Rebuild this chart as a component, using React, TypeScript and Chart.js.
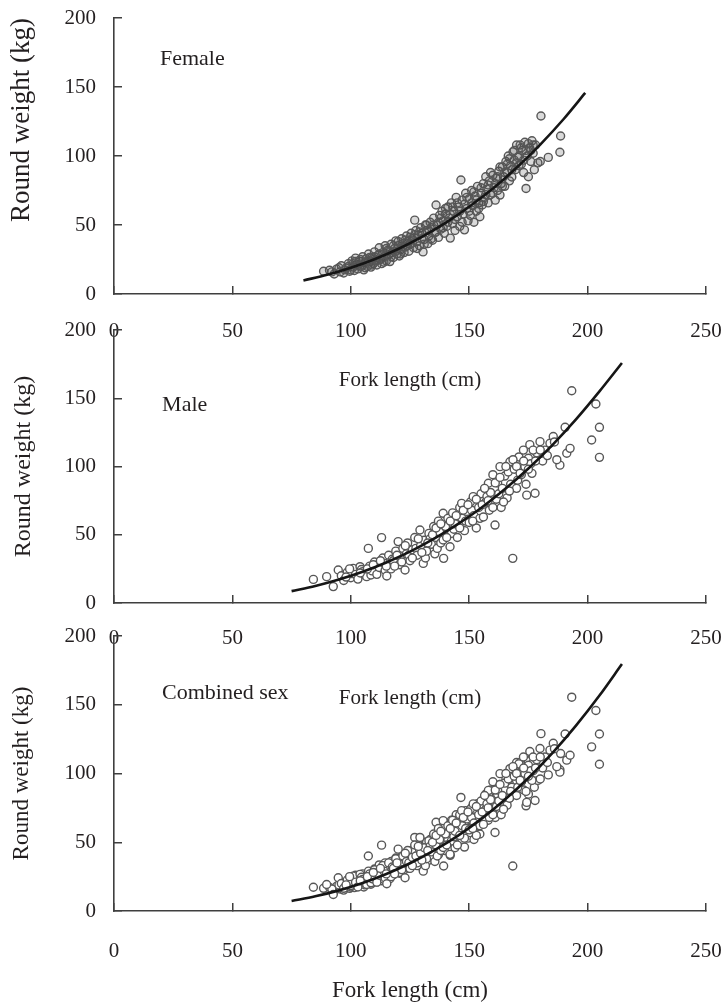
import React, { useEffect, useRef } from 'react';
import { Chart, registerables } from 'chart.js';

Chart.register(...registerables);

// ---------- data ----------
const xTitle = 'Fork length (cm)';
const yTitle = 'Round weight (kg)';
const panelNames = ['Female', 'Male', 'Combined sex'];
const xMin = 0, xMax = 250, xStep = 50;
const yMin = 0, yMax = 200, yStep = 50;

const femalePoints: [number, number][] = [
  [88.5, 16.5], [91, 17.2], [93, 14.5], [94, 18], [95.5, 16], [96, 20.5], [97, 15.2], [98, 18.8], [99, 22], [99.5, 16.5],
  [100.5, 24], [101, 19.5], [101.5, 17], [102, 26], [102.5, 21.5], [103, 18.2], [104, 23.5], [104.5, 20], [105, 27], [105.5, 17.5],
  [106, 22.8], [106.5, 25.5], [107, 20], [107.5, 29], [108, 23.5], [108.5, 19.5], [109, 26.5], [109.5, 22], [110, 30.5], [110.5, 24.5],
  [111, 21], [111.5, 28], [112, 33.5], [112.5, 25], [113, 22], [113.5, 30], [114, 27], [114.5, 35], [115, 24], [115.5, 31.5],
  [116, 28.5], [116.5, 23.5], [117, 36], [117.5, 30], [118, 26.5], [118.5, 33], [119, 38.5], [119.5, 29], [120, 35], [120.5, 27.5],
  [121, 32], [121.5, 40], [122, 36.5], [122.5, 30], [123, 34], [123.5, 42], [124, 38], [124.5, 31], [125, 36], [125.5, 44],
  [126, 40], [126.5, 33.5], [127, 53.5], [127.5, 46], [128, 38], [128.5, 42.5], [129, 35], [129.5, 48], [130, 44], [130.5, 30.5],
  [131, 39.5], [131.5, 50], [132, 46], [132.5, 36.5], [133, 42], [133.5, 52], [134, 48], [134.5, 39], [135, 55], [135.5, 44.5],
  [136, 64.5], [136.5, 50], [137, 41], [137.5, 57], [138, 47], [138.5, 60], [139, 53], [139.5, 44], [140, 58], [140.5, 49],
  [141, 63], [141.5, 55], [142, 40.5], [142.5, 66], [143, 51], [143.5, 60], [144, 46], [144.5, 70], [145, 56], [145.5, 63],
  [146, 49], [146.5, 82.6], [147, 68], [147.5, 58], [148, 46.5], [148.5, 73], [149, 62], [149.5, 53], [150, 69], [150.5, 57],
  [151, 75], [151.5, 64], [152, 52], [152.5, 71], [153, 60], [153.5, 78], [154, 66], [154.5, 56], [155, 73], [155.5, 64.5],
  [156, 80], [156.5, 70], [157, 85], [157.5, 76], [158, 66], [158.5, 82], [159, 72], [160, 86], [160.5, 77], [161, 68],
  [161.5, 84], [162, 75], [162.5, 89], [163, 71.7], [163.5, 80], [164, 92], [164.5, 85], [165, 78], [165.5, 96], [166, 88],
  [166.5, 100], [167, 82], [167.5, 93], [168, 84.8], [168.5, 103], [169, 97], [169.5, 90], [170, 108], [170.5, 99], [171, 93],
  [171.5, 108], [172, 94], [172.5, 104], [173, 88], [173.5, 110], [174, 76.5], [174.5, 100], [175, 85], [175.5, 106], [176, 96],
  [176.5, 111], [177, 102], [177.5, 90], [178, 108], [179, 95], [180, 96], [180.3, 129], [183.4, 99], [188.3, 102.7], [188.6, 114.5],
  [92, 16], [95, 19], [97.5, 17.5], [99, 20], [100, 17.5], [101, 22], [102, 23.5], [103, 20.5], [104, 25], [105, 21],
  [106, 19], [107, 24], [108, 26.5], [109, 21], [110, 27], [111, 24], [112, 29], [113, 26], [114, 23], [115, 33],
  [116, 31], [117, 27], [118, 35], [119, 31], [120, 38], [121, 29], [122, 34], [123, 39], [124, 35], [125, 41],
  [126, 37], [127, 43], [128, 33], [129, 45], [130, 40], [131, 36], [132, 50], [133, 46], [134, 40], [135, 50],
  [136, 45], [137, 52], [138, 55], [139, 48], [140, 62], [141, 52], [142, 58], [143, 63], [144, 54], [145, 66],
  [146, 60], [147, 52], [148, 65], [149, 70], [150, 60], [151, 66], [152, 74], [153, 68], [154, 62], [155, 77],
  [156, 67], [157, 72], [158, 79], [159, 88], [160, 73], [161, 80], [162, 85], [163, 92], [164, 78], [165, 88],
  [166, 94], [167, 98], [168, 90], [169, 104], [170, 95], [171, 100], [172, 106], [173, 97], [174, 104], [175, 109],
  [176, 104], [177, 108],
];

const malePoints: [number, number][] = [
  [84.2, 17.3], [89.8, 19.3], [92.6, 12], [94.7, 24.2], [96, 20], [97, 16.5], [98.5, 22.5], [100, 18.5], [100.5, 21.5], [101, 25.4],
  [102, 21], [103, 17.5], [103.9, 26.6], [104.5, 24.5], [105, 23], [106, 20.5], [106.7, 19.3], [107.4, 40], [108, 27], [108.5, 20.5],
  [109, 23.5], [110, 30], [111, 21], [111.5, 28], [112, 26], [113, 47.9], [113.5, 33], [114, 29], [114.5, 24], [115.2, 19.8],
  [116, 35], [117, 25], [117.5, 32], [118, 31], [119, 38], [120, 45], [120.5, 28], [121, 34], [121.5, 30], [122, 40],
  [122.9, 24.2], [123.5, 36], [124, 44], [124.5, 35], [125, 31], [126, 39], [127, 48], [127.5, 40], [128, 35], [129.2, 53.5],
  [129.5, 42], [130.6, 29], [131, 46], [131.5, 33], [132, 38], [133, 51], [133.5, 47], [134, 43], [135, 56], [135.5, 36],
  [136, 48], [136.5, 40], [137, 60], [137.5, 52], [138, 44], [139, 65.7], [139.2, 32.7], [139, 46.2], [140, 56], [141, 62],
  [141.9, 41.2], [142.5, 51], [143, 66], [143.5, 54], [144, 58], [145, 48], [146, 70], [146.8, 73], [147, 62], [148, 53],
  [148.5, 60], [149, 67], [150, 59], [150.5, 74], [151, 68], [151.7, 77.9], [152, 64], [153, 55], [154, 70], [154.5, 62],
  [155, 80], [156, 63], [157, 74], [157.5, 78], [158.1, 87.7], [158.5, 68], [159, 81], [160, 94], [160.9, 57.1], [161.5, 76],
  [162, 88], [162.5, 80], [163, 99.9], [163.5, 70], [164, 84], [165, 93], [166, 77], [166.5, 96], [167.2, 103.5], [167.5, 87],
  [168.4, 32.7], [169, 98], [170, 84], [170.5, 90], [171, 107], [172, 94], [172.9, 112], [173.5, 100], [174, 87], [174.3, 79],
  [175, 106], [175.6, 116], [176, 102], [176.5, 95], [177.8, 80.4], [178.5, 110], [179.9, 118.2], [181, 104], [182, 112], [183, 108],
  [184.1, 117], [185.5, 122], [188.3, 101], [190.5, 128.7], [191.2, 109.7], [192.6, 113.3], [193.3, 155.5], [201.7, 119.4], [203.5, 145.8], [205, 128.7],
  [205, 106.7],
  [98, 19], [99.5, 25], [104, 22], [107, 25], [109.5, 28], [112.5, 31], [115, 27], [118.5, 27], [119.5, 35], [123, 42],
  [126, 33], [128.5, 47], [130, 37], [132.5, 44], [134.5, 50], [136, 55], [138, 58], [140.5, 48], [142, 60], [144.5, 64],
  [146, 55], [147.5, 68], [149.5, 72], [151.5, 60], [153, 76], [155.5, 72], [156.5, 84], [158, 75], [160, 70], [161, 88],
  [163, 92], [164.5, 74], [165.5, 100], [167, 82], [168.5, 105], [170, 100], [171.5, 95], [173, 104], [175, 98], [177, 112],
  [178, 104], [180, 112], [186, 118], [187, 105],
];

// combined sexes = both samples together
const combinedPoints: [number, number][] = [...femalePoints, ...malePoints];

// fitted length-weight curves
const femaleCurveL = [80, 90, 100, 110, 120, 130, 140, 150, 160, 170, 180, 190, 199];
const femaleCurveW = [9.8, 13.9, 19.0, 25.2, 32.6, 41.4, 51.5, 63.2, 76.4, 91.5, 108.3, 127, 145.7];
const maleCurveL = [75, 85, 95, 105, 115, 125, 135, 145, 155, 165, 175, 185, 195, 205, 214.5];
const maleCurveW = [8.7, 12.5, 17.2, 22.9, 29.7, 37.6, 46.9, 57.6, 69.6, 83.3, 98.5, 115.5, 134.3, 155, 175.8];
const combinedCurveL = [75, 85, 95, 105, 115, 125, 135, 145, 155, 165, 175, 185, 195, 205, 214.5];
const combinedCurveW = [7.3, 10.7, 15.0, 20.4, 26.9, 34.7, 43.9, 54.5, 66.8, 80.9, 96.7, 114.6, 134.6, 156.7, 179.6];

// ---------- styling / layout ----------
const FONT = "'Liberation Serif', 'Times New Roman', serif";
const TEXT = '#231f20';
const AXIS = '#3f3f3f';

const panels = [
  {
    name: panelNames[0], points: femalePoints, curveL: femaleCurveL, curveW: femaleCurveW,
    top: 0, height: 400, xBox: 106, tickPad: 33, xTitleSize: 21, xTitlePadB: 7,
    yTitleSize: 27, yTitlePadT: 6, yTitleAlign: 'end', radius: 4,
    fill: 'rgba(70,70,70,0.2)', labelAt: [19.4, 170],
  },
  {
    name: panelNames[1], points: malePoints, curveL: maleCurveL, curveW: maleCurveW,
    top: 312, height: 410, xBox: 119, tickPad: 31, xTitleSize: 21, xTitlePadB: 11,
    yTitleSize: 24, yTitlePadT: 9, yTitleAlign: 'center', radius: 4,
    fill: '#ffffff', labelAt: [20.3, 145],
  },
  {
    name: panelNames[2], points: combinedPoints, curveL: combinedCurveL, curveW: combinedCurveW,
    top: 618, height: 387, xBox: 94, tickPad: 36, xTitleSize: 23, xTitlePadB: 0,
    yTitleSize: 23, yTitlePadT: 8, yTitleAlign: 'center', radius: 4,
    fill: '#ffffff', labelAt: [20.3, 158.5],
  },
];

const panelLabelPlugin = {
  id: 'panelLabel',
  afterDatasetsDraw(chart: any, _args: any, opts: any) {
    const { ctx, scales } = chart;
    const px = scales.x.getPixelForValue(opts.at[0]);
    const py = scales.y.getPixelForValue(opts.at[1]);
    ctx.save();
    ctx.font = `22px ${FONT}`;
    ctx.fillStyle = TEXT;
    ctx.textAlign = 'left';
    ctx.textBaseline = 'middle';
    ctx.fillText(opts.text, px, py);
    ctx.restore();
  },
};

function Panel({ p }: { p: any }) {
  const ref = useRef<HTMLCanvasElement | null>(null);
  useEffect(() => {
    if (!ref.current) return;
    const chart = new Chart(ref.current, {
      type: 'scatter',
      data: {
        datasets: [
          {
            data: p.curveL.map((l: number, i: number) => ({ x: l, y: p.curveW[i] })),
            showLine: true,
            borderColor: '#161616',
            borderWidth: 2.6,
            pointRadius: 0,
            cubicInterpolationMode: 'monotone',
            order: 0,
          } as any,
          {
            data: p.points.map((d: [number, number]) => ({ x: d[0], y: d[1] })),
            pointRadius: p.radius,
            pointStyle: 'circle',
            borderColor: '#575757',
            borderWidth: 1.4,
            backgroundColor: p.fill,
            order: 1,
          },
        ],
      },
      options: {
        animation: false,
        responsive: false,
        devicePixelRatio: 1,
        events: [],
        layout: { padding: { left: 0, right: 18, top: 18, bottom: 0 } },
        plugins: {
          legend: { display: false },
          tooltip: { enabled: false },
          panelLabel: { text: p.name, at: p.labelAt },
        } as any,
        scales: {
          x: {
            type: 'linear',
            min: xMin,
            max: xMax,
            ticks: { stepSize: xStep, padding: p.tickPad, color: TEXT, font: { family: FONT, size: 21 } },
            grid: { drawOnChartArea: false, drawTicks: true, tickLength: -8, color: AXIS, lineWidth: 1.5 },
            border: { display: true, color: AXIS, width: 1.6 },
            title: {
              display: true, text: xTitle, color: TEXT,
              font: { family: FONT, size: p.xTitleSize },
              padding: { top: 0, bottom: p.xTitlePadB },
            },
            afterFit: (s: any) => { s.height = p.xBox; s.paddingLeft = 0; s.paddingRight = 0; },
          },
          y: {
            type: 'linear',
            min: yMin,
            max: yMax,
            ticks: { stepSize: yStep, padding: 26, color: TEXT, font: { family: FONT, size: 21 } },
            grid: { drawOnChartArea: false, drawTicks: true, tickLength: -8, color: AXIS, lineWidth: 1.5 },
            border: { display: true, color: AXIS, width: 1.6 },
            title: {
              display: true, text: yTitle, color: TEXT, align: p.yTitleAlign,
              font: { family: FONT, size: p.yTitleSize },
              padding: { top: p.yTitlePadT, bottom: 0 },
            },
            afterFit: (s: any) => { s.width = 114; s.paddingTop = 0; s.paddingBottom = 0; },
          },
        },
      } as any,
      plugins: [panelLabelPlugin],
    });
    return () => chart.destroy();
  }, [p]);
  return (
    <canvas
      ref={ref}
      width={724}
      height={p.height}
      style={{ position: 'absolute', left: 0, top: p.top, width: 724, height: p.height }}
    />
  );
}

export default function App() {
  return (
    <div style={{ position: 'absolute', left: 0, top: 0, width: 724, height: 1005, overflow: 'hidden', background: '#fff' }}>
      {panels.map((p, i) => (
        <Panel key={i} p={p} />
      ))}
    </div>
  );
}
